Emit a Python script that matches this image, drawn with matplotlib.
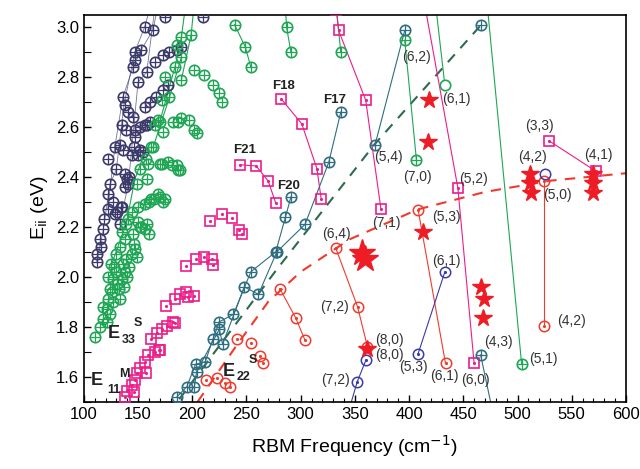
import matplotlib
matplotlib.use("Agg")
import matplotlib.pyplot as plt
import numpy as np

plt.rcParams['font.family'] = ['Liberation Sans', 'DejaVu Sans']

# ---------------- data ----------------
# navy (dark) circle-plus points
navy_x = [156,164,147,153,147,145.5,158,165.5,173,179,185.5,190,150,175,210,
          136,138,141,145.5,156,161,167,173,178,157.8,
          135,139,147,152,156,161,147,133,
          128.6,136,144,150,146,152,155,122,130,138,141,124,122,127,122,128.6,119,118,115,116,112,112,133,135,138,140,142,131,134]
navy_y = [3.00,2.99,2.90,2.91,2.87,2.84,2.82,2.86,2.89,2.90,2.91,2.92,2.78,3.04,3.04,
          2.72,2.69,2.66,2.64,2.68,2.70,2.72,2.75,2.77,2.61,
          2.61,2.59,2.59,2.60,2.61,2.62,2.56,2.53,
          2.52,2.51,2.49,2.49,2.52,2.51,2.50,2.47,2.43,2.41,2.37,2.37,2.33,2.30,2.27,2.25,2.23,2.19,2.15,2.12,2.09,2.06,2.21,2.28,2.36,2.39,2.40,2.26,2.28]
navy_lines = [([112,118,124,130,137,147,156,160],[2.06,2.19,2.37,2.43,2.69,2.90,3.00,3.06]),
              ([122,128.6,136,145.5,153,164,167],[2.27,2.52,2.72,2.84,2.91,2.99,3.06]),
              ([133,141,150,158,165],[2.21,2.37,2.78,2.82,3.06])]

# green circle-plus points
green_x = [239,249,254,287,291,337,201.5,211,219,225,227,190,197,201.5,204.6,187,
           162,172,181,187,170,178,185.5,188.6,
           190,199,190,184,190,175,179,172,170,173,165.5,182,185.5,168.5,164,159.3,
           157,152,158,149,170,162,156,150,144,141,139,135,156,158,145.5,138,133,130,125.5,144,147,139,
           137.8,130,127,135,124,132,122,133,121,127,124,118,115,110,160,165,152,
           175,168,173,150,153,160,146,142,149,122,128,136,140,126,131,137,118,121]
green_y = [3.01,2.92,2.84,3.00,2.90,2.90,2.83,2.81,2.77,2.735,2.70,2.635,2.627,2.59,2.575,2.62,
           2.52,2.45,2.447,2.427,2.453,2.46,2.447,2.427,
           2.96,2.97,2.88,2.84,2.79,2.80,2.72,2.71,2.62,2.58,2.61,2.62,2.927,2.627,2.52,2.453,
           2.47,2.43,2.39,2.37,2.32,2.31,2.29,2.28,2.26,2.23,2.21,2.18,2.19,2.21,2.17,2.15,2.12,2.09,2.05,2.09,2.11,2.07,
           2.02,2.02,1.99,1.99,1.95,1.95,1.91,1.91,1.87,1.90,1.85,1.83,1.80,1.76,2.30,2.31,2.20,
           2.31,2.33,2.30,2.22,2.20,2.17,2.13,2.04,2.08,2.00,2.04,2.05,2.00,1.94,1.97,1.96,1.88,1.82]
green_lines = [([239,249,254],[3.01,2.92,2.84]), ([286,287,291],[3.07,3.00,2.90]),
               ([333,337],[3.07,2.90]), ([396,406.8],[2.947,2.467]),
               ([425,433],[3.07,2.767]), ([472.5,503.8],[3.07,1.651]),
               ([190,199,201],[2.79,2.97,3.06]), ([170,184,190,193],[2.62,2.84,2.96,3.06]),
               ([164,179,190],[2.52,2.72,2.88]), ([125.5,139,147,158],[2.05,2.21,2.39,2.52])]
green_plus_x = [396, 406.8, 503.8]
green_plus_y = [2.947, 2.467, 1.651]
green_open_x = [433]
green_open_y = [2.767]

# magenta squares
mag_x = [216,227.6,236.8,243.3,245.5, 194,203,210.7,217.8,219.3,
         175.6,184,188.6,194,201.5,196,
         182.4,176.3,171.7,167.1,161.5,170.1,165.5,158.8,156.3,151.7,156.9,148.6,147,144,146.4,139.4,137.8,184,169]
mag_y = [2.224,2.25,2.237,2.187,2.171, 2.043,2.071,2.08,2.07,2.047,
         1.883,1.91,1.93,1.94,1.923,1.92,
         1.818,1.803,1.791,1.774,1.751,1.707,1.698,1.687,1.658,1.633,1.613,1.613,1.587,1.567,1.537,1.543,1.52,1.817,1.709]
mag_lines = [([244,259,270,277],[2.449,2.444,2.384,2.296]),
             ([282,301,315,319],[2.713,2.613,2.433,2.31]),
             ([333,335,360,374],[3.07,2.987,2.707,2.273]),
             ([414,445,460],[3.10,2.356,1.653]),
             ([529,572],[2.545,2.424])]

# teal circle-plus
teal_lines = [([186,195,203,212,219,225,238,254,277,286,291],
               [1.52,1.56,1.65,1.66,1.75,1.82,1.85,2.02,2.10,2.24,2.32]),
              ([202,204,225,228,248,261,278,304,326,337],
               [1.56,1.62,1.79,1.73,1.96,1.93,2.10,2.21,2.46,2.66]),
              ([396,368.5],[2.987,2.527]),
              ([466,480],[1.687,1.40])]
teal_single_x = [466]
teal_single_y = [3.007]

# red circle-dot
red_x = [213,223,230,235,241.4,253.8,262.4,265.4]
red_y = [1.587,1.594,1.574,1.558,1.75,1.736,1.683,1.654]
red_lines = [([280.8,295.6,303.9],[1.953,1.834,1.747]),
             ([332.3,352.5,361.6],[2.116,1.88,1.72]),
             ([408.4,433.6],[2.267,1.653]),
             ([524.6,524.6],[2.383,1.803])]

# blue circle-dot
blue_lines = [([360.2,352.2,340],[1.667,1.58,1.40]),
              ([408.4,433],[1.693,2.02])]
blue_open_x = [525.3]
blue_open_y = [2.41]

# experimental stars
star_x = [418.6,417.7,412.4,361.6,466,469.3,468.4,511.5,511.5,512,569.8,569.8,569.8]
star_y = [2.707,2.54,2.18,1.713,1.958,1.913,1.834,2.41,2.375,2.336,2.41,2.376,2.336]
bigstar_x = [357,359]
bigstar_y = [2.095,2.07]

# fitted dashed curves
gfit_x = [188,278,368,466]
gfit_y = [1.51,2.03,2.53,3.007]
rfit_x = [205,240,270,300,345,408,470,530,600]
rfit_y = [1.50,1.72,1.90,2.02,2.15,2.27,2.34,2.385,2.415]

# labels
chir_labels = ['(6,2)','(6,1)','(5,4)','(7,0)','(5,2)','(7,1)','(5,3)','(6,4)','(7,2)','(8,0)','(8,0)',
               '(7,2)','(6,1)','(5,3)','(6,1)','(6,0)','(4,3)','(5,1)','(4,2)','(3,3)','(4,2)','(4,1)','(5,0)']
chir_x = [407,444,381,408,459,379,434,333,331,382,382,332,434,404,433,461,482,524,550,520,514,575,537]
chir_y = [2.88,2.713,2.48,2.40,2.393,2.214,2.24,2.173,1.88,1.747,1.687,1.587,2.064,1.64,1.603,1.587,1.74,1.673,1.824,2.603,2.48,2.49,2.327]
fam_labels = ['F18','F17','F21','F20']
fam_x = [284,331.5,248.5,288.5]
fam_y = [2.764,2.71,2.51,2.363]
band_main = ['E', 'E', 'E']
band_sub = ['33', '11', '22']
band_sup = ['S', 'M', 'S']
band_main_xy = [(127.5,1.774),(112,1.583),(233.5,1.622)]
band_sub_xy = [(141,1.748),(127.5,1.547),(247,1.598)]
band_sup_xy = [(149.5,1.814),(137,1.612),(256,1.665)]

# ---------------- styles ----------------
NAVY = '#3c3a6a'
GREEN = '#1fa655'
MAG = '#ec1d8a'
TEAL = '#2f6e80'
RED = '#f23a2c'
BLUE = '#3b3aa8'
STAR = '#ee1c24'

fig = plt.figure(figsize=(6.4, 4.69), dpi=100)
ax = fig.add_axes([0.131, 0.1435, 0.847, 0.8252])

def oplus(x, y, c, ms=7.5, z=3):
    ax.plot(x, y, 'o', ls='none', mfc='none', mec=c, mew=1.2, ms=ms, zorder=z)
    ax.plot(x, y, '+', ls='none', color=c, mew=0.9, ms=ms*0.95, zorder=z)

def odot(x, y, c, ms=7.5, z=3):
    ax.plot(x, y, 'o', ls='none', mfc='none', mec=c, mew=1.1, ms=ms, zorder=z)
    ax.plot(x, y, '.', ls='none', color=c, ms=2.5, zorder=z)

def sqdot(x, y, c, ms=6.5, z=3):
    ax.plot(x, y, 's', ls='none', mfc='none', mec=c, mew=1.2, ms=ms, zorder=z)
    ax.plot(x, y, '.', ls='none', color=c, ms=2.5, zorder=z)

ax.plot(gfit_x, gfit_y, ls=(0, (5, 4)), color='#2e6b4c', lw=1.5, zorder=2)
ax.plot(rfit_x, rfit_y, ls=(0, (5, 4)), color=RED, lw=1.5, zorder=2)

for lx, ly in navy_lines:
    ax.plot(lx, ly, '-', color=NAVY, lw=0.6, alpha=0.7, zorder=2)
oplus(navy_x, navy_y, NAVY)

for lx, ly in green_lines:
    ax.plot(lx, ly, '-', color=GREEN, lw=0.8, zorder=2)
oplus(green_x, green_y, GREEN)
oplus(green_plus_x, green_plus_y, GREEN)
ax.plot(green_open_x, green_open_y, 'o', mfc='white', mec=GREEN, mew=1.2, ms=7.5, zorder=3)

for lx, ly in mag_lines:
    ax.plot(lx, ly, '-', color=MAG, lw=0.8, zorder=2)
    sqdot(lx, ly, MAG)
sqdot(mag_x, mag_y, MAG)

for lx, ly in teal_lines:
    ax.plot(lx, ly, '-', color=TEAL, lw=0.8, zorder=2)
    oplus(lx, ly, TEAL)
oplus(teal_single_x, teal_single_y, TEAL)

odot(red_x, red_y, RED)
for lx, ly in red_lines:
    ax.plot(lx, ly, '-', color=RED, lw=0.8, zorder=2)
    odot(lx, ly, RED)

for lx, ly in blue_lines:
    ax.plot(lx, ly, '-', color=BLUE, lw=0.8, zorder=2)
    odot(lx, ly, BLUE)
ax.plot(blue_open_x, blue_open_y, 'o', mfc='none', mec=BLUE, mew=1.1, ms=7.5, zorder=3)

ax.plot(star_x, star_y, '*', ls='none', color=STAR, ms=13, zorder=4)
ax.plot(bigstar_x, bigstar_y, '*', ls='none', color=STAR, ms=20, zorder=4)

for t, x, y in zip(chir_labels, chir_x, chir_y):
    ax.text(x, y, t, fontsize=10, ha='center', va='center', color='#333333', zorder=5)
for t, x, y in zip(fam_labels, fam_x, fam_y):
    ax.text(x, y, t, fontsize=9.5, ha='center', va='center', fontweight='bold', color='#222222', zorder=5)

for m, s, p, mxy, sxy, pxy in zip(band_main, band_sub, band_sup, band_main_xy, band_sub_xy, band_sup_xy):
    ax.text(mxy[0], mxy[1], m, fontsize=13, fontweight='bold', ha='center', va='center', color='#222222', zorder=6)
    ax.text(sxy[0], sxy[1], s, fontsize=9, fontweight='bold', ha='center', va='center', color='#222222', zorder=6)
    ax.text(pxy[0], pxy[1], p, fontsize=9, fontweight='bold', ha='center', va='center', color='#222222', zorder=6)

ax.set_xlim(100, 600)
ax.set_ylim(1.5, 3.05)
ax.set_xticks(np.arange(100, 601, 50))
ax.set_xticks(np.arange(100, 601, 10), minor=True)
ax.set_yticks(np.arange(1.6, 3.01, 0.2))
ax.set_yticks(np.arange(1.5, 3.05, 0.1), minor=True)
ax.set_yticklabels(['%.1f' % v for v in np.arange(1.6, 3.01, 0.2)])
ax.tick_params(axis='both', which='major', direction='in', length=5, width=1, labelsize=12,
               top=False, right=False)
ax.tick_params(axis='both', which='minor', direction='in', length=3, width=0.8, top=False, right=False)
ax.tick_params(axis='y', which='minor', length=5)
for s in ax.spines.values():
    s.set_linewidth(1.2)
ax.set_xlabel('RBM Frequency (cm$^{-1}$)', fontsize=14, labelpad=8)
ax.set_ylabel('E$_{\\rm ii}$ (eV)', fontsize=14, labelpad=4)

fig.savefig('out.png', dpi=100)
